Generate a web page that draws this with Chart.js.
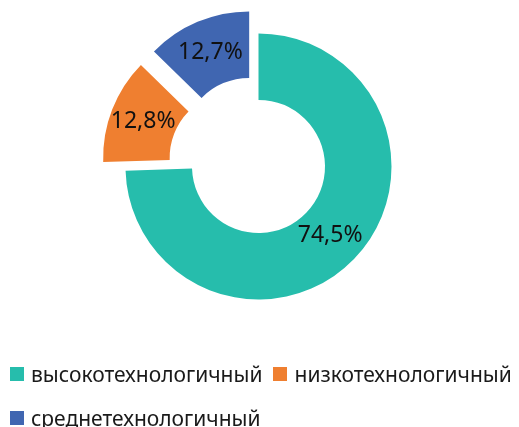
<!DOCTYPE html>
<html>
<head>
<meta charset="utf-8">
<script src="https://cdn.jsdelivr.net/npm/chart.js@4.4.1/dist/chart.umd.min.js"></script>
<style>
  html, body { margin: 0; padding: 0; background: #fff; }
  #wrap { position: relative; width: 519px; height: 427px; overflow: hidden; }
  #chartBox { position: absolute; left: 0; top: 0; width: 519px; height: 427px; }
  #legend { position: absolute; left: 10px; top: 359px; width: 509px; display: flex; flex-wrap: wrap; column-gap: 11px; row-gap: 15px;
            font-family: "Noto Sans", sans-serif; font-size: 21px; color: #1a1a1a; }
  .item { display: flex; align-items: center; height: 29px; white-space: nowrap; }
  .sw { width: 14px; height: 14px; margin-right: 7px; flex: none; }
</style>
</head>
<body>
<div id="wrap">
  <div id="chartBox"><canvas id="c"></canvas></div>
  <div id="legend"></div>
</div>
<script>
const categories = ["высокотехнологичный", "низкотехнологичный", "среднетехнологичный"];
const shares = [74.5, 12.8, 12.7];
const shareLabels = ["74,5%", "12,8%", "12,7%"];
const colors = ["#26BDAC", "#EF7F30", "#4066B1"];
const explodePx = [0, 24, 24];

const legendEl = document.getElementById('legend');
categories.forEach((name, i) => {
  const it = document.createElement('div');
  it.className = 'item';
  const sw = document.createElement('span');
  sw.className = 'sw';
  sw.style.background = colors[i];
  const tx = document.createElement('span');
  tx.textContent = name;
  it.appendChild(sw); it.appendChild(tx);
  legendEl.appendChild(it);
});

// Explode slices by a pure translation of their centre along the mid angle
const explodePlugin = {
  id: 'explode',
  afterDatasetUpdate(chart, args) {
    if (args.index !== 0) return;
    args.meta.data.forEach((arc, i) => {
      const half = (arc.startAngle + arc.endAngle) / 2;
      arc.x += Math.cos(half) * explodePx[i];
      arc.y += Math.sin(half) * explodePx[i];
    });
  }
};

const labelPlugin = {
  id: 'sliceLabels',
  afterDatasetsDraw(chart) {
    const ctx = chart.ctx;
    const meta = chart.getDatasetMeta(0);
    ctx.save();
    ctx.font = '23px "Noto Sans", sans-serif';
    ctx.fillStyle = '#111';
    ctx.textAlign = 'center';
    ctx.textBaseline = 'middle';
    meta.data.forEach((arc, i) => {
      const half = (arc.startAngle + arc.endAngle) / 2;
      const r = (arc.innerRadius + arc.outerRadius) / 2;
      ctx.fillText(shareLabels[i], arc.x + Math.cos(half) * r, arc.y + Math.sin(half) * r);
    });
    ctx.restore();
  }
};

new Chart(document.getElementById('c'), {
  type: 'doughnut',
  data: {
    labels: categories,
    datasets: [{
      data: shares,
      backgroundColor: colors,
      borderWidth: 0
    }]
  },
  options: {
    responsive: true,
    maintainAspectRatio: false,
    animation: false,
    radius: 133,
    cutout: '50%',
    layout: { padding: { left: 0, right: 2, top: 0, bottom: 94 } },
    plugins: {
      legend: { display: false },
      tooltip: { enabled: false }
    }
  },
  plugins: [explodePlugin, labelPlugin]
});
</script>
</body>
</html>
